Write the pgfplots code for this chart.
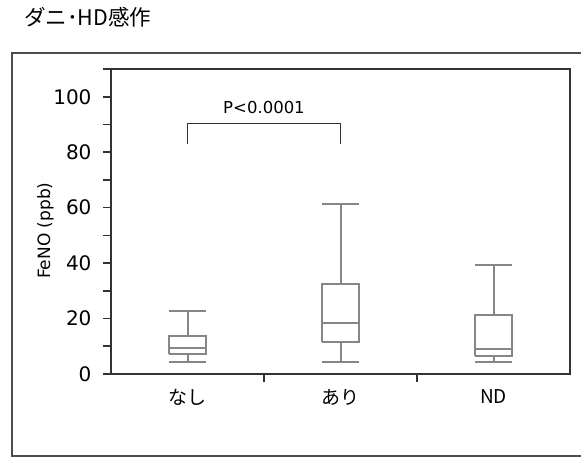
\documentclass[border=0pt]{standalone}
\usepackage{fontspec}
\setmainfont{DejaVu Sans}
\newfontfamily\jp{Noto Sans CJK JP}
\usepackage{pgfplots}
\pgfplotsset{compat=1.18}
\definecolor{boxgray}{HTML}{868686}
\definecolor{axisdark}{HTML}{333333}
% box outline, median, whiskers and caps per group (nan breaks the line)
% groups: x=0 (なし), 1 (あり), 2 (ND); half width 0.12
\pgfplotstableread{
x y
-0.12 7.3
0.12 7.3
0.12 13.7
-0.12 13.7
-0.12 7.3
nan nan
-0.12 9.2
0.12 9.2
nan nan
0 13.7
0 22.9
nan nan
-0.12 22.9
0.12 22.9
nan nan
0 7.3
0 4.3
nan nan
-0.12 4.3
0.12 4.3
nan nan
0.88 11.6
1.12 11.6
1.12 32.5
0.88 32.5
0.88 11.6
nan nan
0.88 18.3
1.12 18.3
nan nan
1 32.5
1 61.3
nan nan
0.88 61.3
1.12 61.3
nan nan
1 11.6
1 4.3
nan nan
0.88 4.3
1.12 4.3
nan nan
1.88 6.6
2.12 6.6
2.12 21.2
1.88 21.2
1.88 6.6
nan nan
1.88 8.9
2.12 8.9
nan nan
2 21.2
2 39.4
nan nan
1.88 39.4
2.12 39.4
nan nan
2 6.6
2 4.5
nan nan
1.88 4.5
2.12 4.5
}\boxes
\begin{document}
\begin{tikzpicture}
\useasboundingbox (0pt,0pt) rectangle (581pt,-457pt);
% outer frame
\draw[color=black!70, line width=1.8pt] (582pt,-53pt) -- (12pt,-53pt) -- (12pt,-456pt) -- (582pt,-456pt);
\node[anchor=base west, font=\jp\fontsize{21.5}{24}\selectfont, inner sep=0pt] at (24pt,-26pt) {ダニ･HD感作};
\begin{axis}[at={(111pt,-374pt)}, anchor=south west, scale only axis,
  width=459pt, height=305pt,
  xmin=-0.5, xmax=2.5, ymin=0, ymax=110,
  axis line style={axisdark, line width=2.1pt},
  tick style={axisdark, line width=1.7pt},
  tick align=outside, major tick length=8pt, minor tick length=8pt,
  tick pos=left,
  xtick={0.5,1.5}, xticklabels={},
  extra x ticks={0,1,2}, extra x tick labels={なし,あり,ND},
  extra x tick style={major tick length=0pt,
    tick label style={font=\jp\fontsize{19}{22}\selectfont, yshift=-12pt}},
  ytick={0,20,...,100}, minor ytick={10,30,...,110},
  yticklabel style={font=\fontsize{20}{22}\selectfont, xshift=-8pt},
  /pgf/number format/assume math mode=true,
  ylabel={FeNO (ppb)},
  ylabel style={font=\fontsize{17}{20}\selectfont, at={(axis description cs:-0.143,0.47)}, anchor=center},
  unbounded coords=jump,
]
\addplot[boxgray, line width=2pt, mark=none] table[x=x, y=y] {\boxes};
% significance bracket
\addplot[axisdark, line width=1.6pt] coordinates {(0,83.1) (0,90.3) (1,90.3) (1,83.1)};
\node[font=\fontsize{16.5}{18}\selectfont] at (axis cs:0.5,96) {P<0.0001};
\end{axis}
\end{tikzpicture}
\end{document}
